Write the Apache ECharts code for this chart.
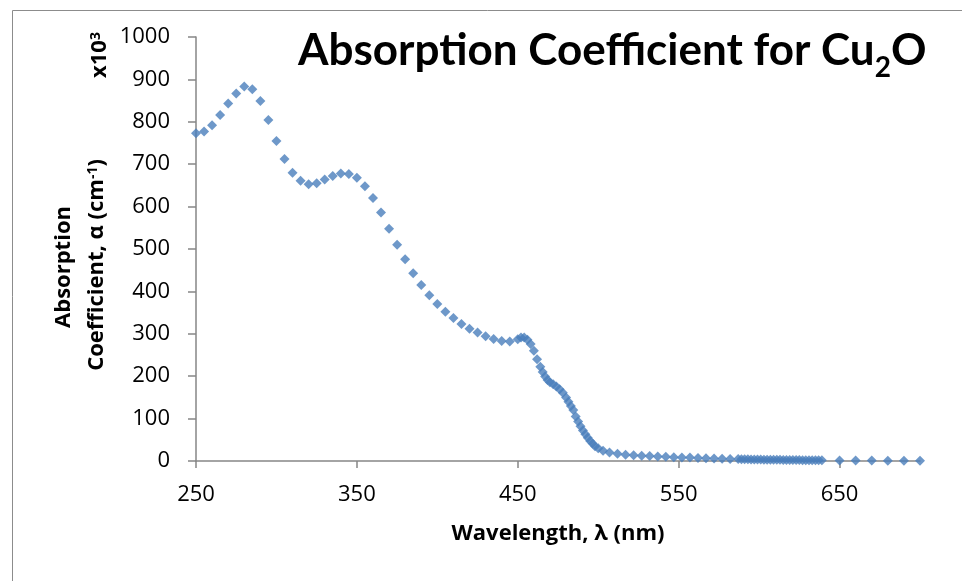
<!DOCTYPE html>
<html>
<head>
<meta charset="utf-8">
<script src="https://cdn.jsdelivr.net/npm/echarts@6/dist/echarts.min.js"></script>
<style>
  html, body { margin: 0; padding: 0; background: #fff; }
  #chart { width: 962px; height: 581px; }
</style>
</head>
<body>
<div id="chart"></div>
<script>
// wavelength (nm), absorption coefficient (x10^3 cm^-1)
var absorption = [
  [250, 773], [255, 777], [260, 792], [265, 816], [270, 843], [275, 867],
  [280, 883], [285, 877], [290, 849], [295, 804], [300, 755], [305, 712],
  [310, 680], [315, 661], [320, 653], [325, 655], [330, 664], [335, 672],
  [340, 678], [345, 677], [350, 668], [355, 648], [360, 620], [365, 586],
  [370, 548], [375, 510], [380, 476], [385, 443], [390, 415], [395, 391],
  [400, 370], [405, 352], [410, 337], [415, 323], [420, 312], [425, 303],
  [430, 294], [435, 288], [440, 283], [445, 282], [450, 287], [452, 291],
  [454, 291], [456, 286], [458, 276], [460, 260], [462, 240], [464, 222],
  [465.5, 210], [467, 199], [468.5, 191], [470, 186], [472, 181], [474, 176],
  [476, 169], [478, 161], [480, 150], [481.5, 140], [483, 130], [484.5, 120],
  [486, 105], [487.5, 93], [489, 82], [490.5, 72], [492, 63], [493.5, 55],
  [495, 47], [496.5, 41], [498, 35], [500, 30], [503, 24], [507, 20],
  [512, 17], [517, 15], [522, 13.5], [527, 12.5], [532, 11.5], [537, 10.5],
  [542, 10], [547, 9], [552, 8.5], [557, 8], [562, 7], [567, 6.5],
  [572, 6], [577, 5.5], [582, 5], [587, 4.5],
  [589, 4.3], [591, 4.1], [593, 4.0], [595, 3.8], [597, 3.7], [599, 3.5],
  [601, 3.4], [603, 3.2], [605, 3.1], [607, 3.0], [609, 2.9], [611, 2.8],
  [613, 2.7], [615, 2.6], [617, 2.5], [619, 2.4], [621, 2.3], [623, 2.2],
  [625, 2.1], [627, 2.0], [629, 1.9], [631, 1.9], [633, 1.8], [635, 1.7],
  [637, 1.7], [639, 1.6],
  [650, 1.2], [660, 1.0], [670, 0.9], [680, 0.8], [690, 0.7], [700, 0.7]
];
var xTicks = [250, 350, 450, 550, 650];

var axisGray = '#868686';
var chart = echarts.init(document.getElementById('chart'));

var option = {
  animation: false,
  title: {
    text: 'Absorption Coefficient for Cu{s|2}O',
    left: 293,
    top: 15,
    textStyle: {
      fontFamily: 'Lato',
      fontWeight: 'bold',
      fontSize: 44,
      lineHeight: 62,
      color: '#000',
      rich: {
        s: { fontFamily: 'Lato', fontWeight: 'bold', fontSize: 28, lineHeight: 22, verticalAlign: 'bottom', color: '#000' }
      }
    }
  },
  grid: { left: 196, right: 42, top: 37, bottom: 120 },
  xAxis: {
    type: 'value',
    min: 250,
    max: 700,
    name: 'Wavelength, λ (nm)',
    nameLocation: 'middle',
    nameGap: 62,
    nameTextStyle: { fontFamily: 'Open Sans', fontWeight: 'bold', fontSize: 22, color: '#000' },
    axisLine: { lineStyle: { color: axisGray, width: 1.5 } },
    axisTick: { show: true, length: 7, customValues: xTicks, lineStyle: { color: axisGray, width: 1.5 } },
    axisLabel: { customValues: xTicks, margin: 23, fontFamily: 'Open Sans', fontSize: 22, color: '#000' },
    splitLine: { show: false }
  },
  yAxis: {
    type: 'value',
    min: 0,
    max: 1000,
    interval: 100,
    axisLine: { show: true, lineStyle: { color: axisGray, width: 1.5 } },
    axisTick: { show: true, length: 8, lineStyle: { color: axisGray, width: 1.5 } },
    axisLabel: { margin: 26, fontFamily: 'Open Sans', fontSize: 22, color: '#000', formatter: function (v) { return String(v); } },
    splitLine: { show: false }
  },
  graphic: [
    {
      type: 'rect', left: 10, top: 8, z: -1,
      shape: { width: 1000, height: 1000 },
      style: { fill: 'none', stroke: '#8c8c8c', lineWidth: 1 }
    },
    {
      type: 'text', x: 64, y: 267, rotation: Math.PI / 2,
      style: { text: 'Absorption', fontFamily: 'Open Sans', fontWeight: 'bold', fontSize: 22, fill: '#000', align: 'center', verticalAlign: 'middle' }
    },
    {
      type: 'text', x: 97, y: 265, rotation: Math.PI / 2,
      style: {
        text: 'Coefficient, α (cm{sup|-1})',
        fontFamily: 'Open Sans', fontWeight: 'bold', fontSize: 22, fill: '#000', align: 'center', verticalAlign: 'middle',
        rich: { sup: { fontFamily: 'Open Sans', fontWeight: 'bold', fontSize: 14, verticalAlign: 'top', fill: '#000' } }
      }
    },
    {
      type: 'text', x: 100, y: 55, rotation: Math.PI / 2,
      style: {
        text: 'x10{sup|3}',
        fontFamily: 'Open Sans', fontWeight: 'bold', fontSize: 22, fill: '#000', align: 'center', verticalAlign: 'middle',
        rich: { sup: { fontFamily: 'Open Sans', fontWeight: 'bold', fontSize: 14, verticalAlign: 'top', fill: '#000' } }
      }
    }
  ],
  series: [
    {
      type: 'scatter',
      symbol: 'diamond',
      symbolSize: 10,
      itemStyle: { color: '#4a7ebb' },
      data: absorption
    }
  ]
};

chart.setOption(option);
</script>
</body>
</html>
